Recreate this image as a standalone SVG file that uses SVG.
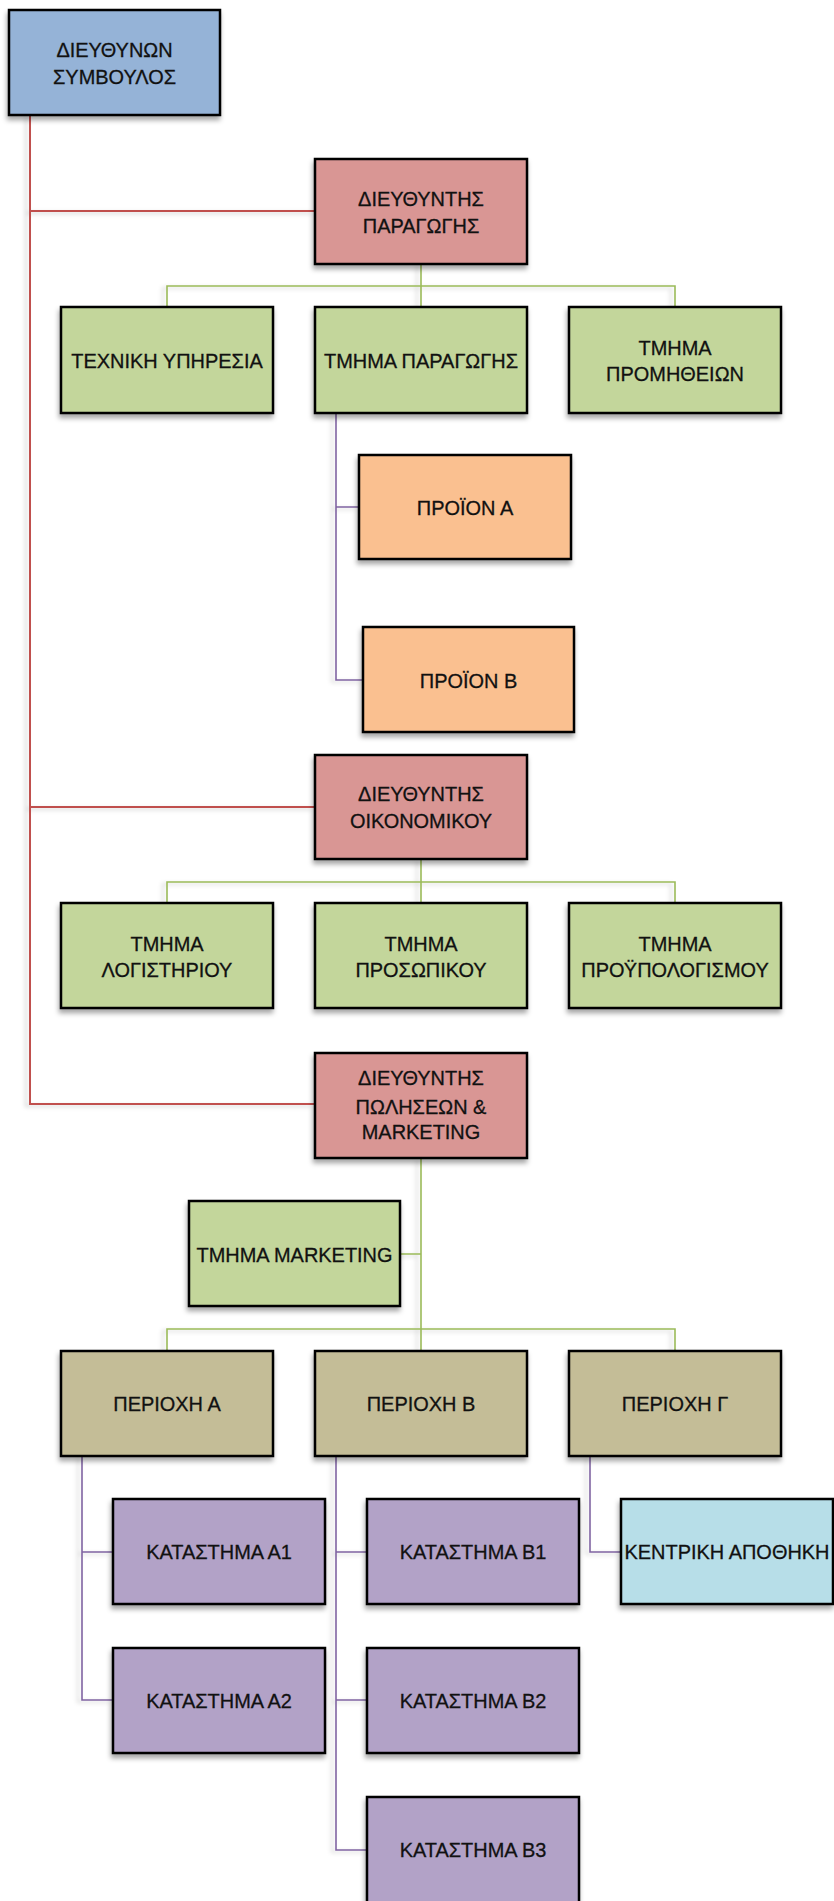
<svg xmlns="http://www.w3.org/2000/svg" width="834" height="1901" viewBox="0 0 834 1901">
  <defs>
    <filter id="boxShadow" x="-10%" y="-10%" width="125%" height="130%">
      <feDropShadow dx="-1" dy="4" stdDeviation="2.5" flood-color="#000" flood-opacity="0.35"/>
    </filter>
    <filter id="lineShadow" x="-20%" y="-5%" width="140%" height="110%">
      <feDropShadow dx="-4" dy="2" stdDeviation="2" flood-color="#000" flood-opacity="0.18"/>
    </filter>
    <style>
      .box { stroke: #000; stroke-width: 2.5; filter: url(#boxShadow); }
      .ceo { fill: #95B3D7; }
      .dir { fill: #D99694; }
      .dept { fill: #C3D69B; }
      .prod { fill: #FAC090; }
      .region { fill: #C4BD97; }
      .store { fill: #B2A2C7; }
      .depot { fill: #B7DEE8; }
      /* labels are set a little narrow: each text is placed with translate() then scale(0.95,1) */
      .lbl { font-family: "Liberation Sans", Arial, sans-serif; font-size: 21px; fill: #111; stroke: #111; stroke-width: 0.3; text-anchor: middle; }
      .red { stroke: #C0504D; stroke-width: 2; fill: none; }
      .grn { stroke: #9BBB59; stroke-width: 1.6; fill: none; }
      .pur { stroke: #8064A2; stroke-width: 1.6; fill: none; }
    </style>
  </defs>

  <!-- connectors -->
  <g id="connectors" filter="url(#lineShadow)">
    <!-- CEO trunk to the three directors -->
    <path class="red" d="M30,115 V1104 H315 M30,211 H315 M30,807 H315"/>
    <!-- production director to departments -->
    <path class="grn" d="M421,264 V286 M167,307 V286 H675 V307 M421,286 V307"/>
    <!-- production department to products -->
    <path class="pur" d="M336,413 V680 H363 M336,507 H359"/>
    <!-- finance director to departments -->
    <path class="grn" d="M421,859 V882 M167,903 V882 H675 V903 M421,882 V903"/>
    <!-- sales director to marketing and regions -->
    <path class="grn" d="M421,1158 V1351 M421,1254 H400 M167,1351 V1329 H675 V1351"/>
    <!-- region A stores -->
    <path class="pur" d="M82,1456 V1700 H113 M82,1552 H113"/>
    <!-- region B stores -->
    <path class="pur" d="M336,1456 V1850 H367 M336,1552 H367 M336,1700 H367"/>
    <!-- region C depot -->
    <path class="pur" d="M590,1456 V1552 H621"/>
  </g>

  <g id="ceo">
    <rect class="box ceo" x="9" y="10" width="211" height="105"/>
    <text class="lbl" transform="translate(114.5,57) scale(0.95,1)">ΔΙΕΥΘΥΝΩΝ</text>
    <text class="lbl" transform="translate(114.5,84) scale(0.95,1)">ΣΥΜΒΟΥΛΟΣ</text>
  </g>

  <g id="dir-production">
    <rect class="box dir" x="315" y="159" width="212" height="105"/>
    <text class="lbl" transform="translate(421,206) scale(0.95,1)">ΔΙΕΥΘΥΝΤΗΣ</text>
    <text class="lbl" transform="translate(421,233) scale(0.95,1)">ΠΑΡΑΓΩΓΗΣ</text>
  </g>

  <g id="tech-service">
    <rect class="box dept" x="61" y="307" width="212" height="106"/>
    <text class="lbl" transform="translate(167,368) scale(0.95,1)">ΤΕΧΝΙΚΗ ΥΠΗΡΕΣΙΑ</text>
  </g>
  <g id="production-dept">
    <rect class="box dept" x="315" y="307" width="212" height="106"/>
    <text class="lbl" transform="translate(421,368) scale(0.95,1)">ΤΜΗΜΑ ΠΑΡΑΓΩΓΗΣ</text>
  </g>
  <g id="supplies-dept">
    <rect class="box dept" x="569" y="307" width="212" height="106"/>
    <text class="lbl" transform="translate(675,355) scale(0.95,1)">ΤΜΗΜΑ</text>
    <text class="lbl" transform="translate(675,381) scale(0.95,1)">ΠΡΟΜΗΘΕΙΩΝ</text>
  </g>

  <g id="product-a">
    <rect class="box prod" x="359" y="455" width="212" height="104"/>
    <text class="lbl" transform="translate(465,515) scale(0.95,1)">ΠΡΟΪΟΝ Α</text>
  </g>
  <g id="product-b">
    <rect class="box prod" x="363" y="627" width="211" height="105"/>
    <text class="lbl" transform="translate(468.5,688) scale(0.95,1)">ΠΡΟΪΟΝ Β</text>
  </g>

  <g id="dir-finance">
    <rect class="box dir" x="315" y="755" width="212" height="104"/>
    <text class="lbl" transform="translate(421,801) scale(0.95,1)">ΔΙΕΥΘΥΝΤΗΣ</text>
    <text class="lbl" transform="translate(421,828) scale(0.95,1)">ΟΙΚΟΝΟΜΙΚΟΥ</text>
  </g>

  <g id="accounting-dept">
    <rect class="box dept" x="61" y="903" width="212" height="105"/>
    <text class="lbl" transform="translate(167,951) scale(0.95,1)">ΤΜΗΜΑ</text>
    <text class="lbl" transform="translate(167,977) scale(0.95,1)">ΛΟΓΙΣΤΗΡΙΟΥ</text>
  </g>
  <g id="personnel-dept">
    <rect class="box dept" x="315" y="903" width="212" height="105"/>
    <text class="lbl" transform="translate(421,951) scale(0.95,1)">ΤΜΗΜΑ</text>
    <text class="lbl" transform="translate(421,977) scale(0.95,1)">ΠΡΟΣΩΠΙΚΟΥ</text>
  </g>
  <g id="budget-dept">
    <rect class="box dept" x="569" y="903" width="212" height="105"/>
    <text class="lbl" transform="translate(675,951) scale(0.95,1)">ΤΜΗΜΑ</text>
    <text class="lbl" transform="translate(675,977) scale(0.95,1)">ΠΡΟΫΠΟΛΟΓΙΣΜΟΥ</text>
  </g>

  <g id="dir-sales">
    <rect class="box dir" x="315" y="1053" width="212" height="105"/>
    <text class="lbl" transform="translate(421,1085) scale(0.95,1)">ΔΙΕΥΘΥΝΤΗΣ</text>
    <text class="lbl" transform="translate(421,1114) scale(0.95,1)">ΠΩΛΗΣΕΩΝ &amp;</text>
    <text class="lbl" transform="translate(421,1139) scale(0.95,1)">MARKETING</text>
  </g>

  <g id="marketing-dept">
    <rect class="box dept" x="189" y="1201" width="211" height="105"/>
    <text class="lbl" transform="translate(294.5,1262) scale(0.95,1)">ΤΜΗΜΑ MARKETING</text>
  </g>

  <g id="region-a">
    <rect class="box region" x="61" y="1351" width="212" height="105"/>
    <text class="lbl" transform="translate(167,1411) scale(0.95,1)">ΠΕΡΙΟΧΗ Α</text>
  </g>
  <g id="region-b">
    <rect class="box region" x="315" y="1351" width="212" height="105"/>
    <text class="lbl" transform="translate(421,1411) scale(0.95,1)">ΠΕΡΙΟΧΗ Β</text>
  </g>
  <g id="region-c">
    <rect class="box region" x="569" y="1351" width="212" height="105"/>
    <text class="lbl" transform="translate(675,1411) scale(0.95,1)">ΠΕΡΙΟΧΗ Γ</text>
  </g>

  <g id="store-a1">
    <rect class="box store" x="113" y="1499" width="212" height="105"/>
    <text class="lbl" transform="translate(219,1559) scale(0.95,1)">ΚΑΤΑΣΤΗΜΑ Α1</text>
  </g>
  <g id="store-a2">
    <rect class="box store" x="113" y="1648" width="212" height="105"/>
    <text class="lbl" transform="translate(219,1708) scale(0.95,1)">ΚΑΤΑΣΤΗΜΑ Α2</text>
  </g>
  <g id="store-b1">
    <rect class="box store" x="367" y="1499" width="212" height="105"/>
    <text class="lbl" transform="translate(473,1559) scale(0.95,1)">ΚΑΤΑΣΤΗΜΑ Β1</text>
  </g>
  <g id="store-b2">
    <rect class="box store" x="367" y="1648" width="212" height="105"/>
    <text class="lbl" transform="translate(473,1708) scale(0.95,1)">ΚΑΤΑΣΤΗΜΑ Β2</text>
  </g>
  <g id="store-b3">
    <rect class="box store" x="367" y="1797" width="212" height="110"/>
    <text class="lbl" transform="translate(473,1857) scale(0.95,1)">ΚΑΤΑΣΤΗΜΑ Β3</text>
  </g>
  <g id="central-depot">
    <rect class="box depot" x="621" y="1499" width="212" height="105"/>
    <text class="lbl" transform="translate(727,1559) scale(0.95,1)">ΚΕΝΤΡΙΚΗ ΑΠΟΘΗΚΗ</text>
  </g>
</svg>
